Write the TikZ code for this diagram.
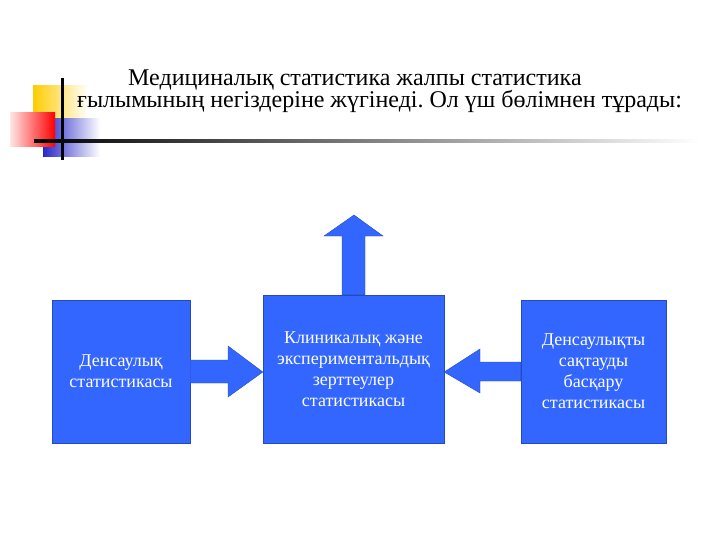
\documentclass[tikz,border=0pt]{standalone}
\usepackage{fontspec}
\setmainfont{Liberation Serif}
\usetikzlibrary{positioning,calc}
\definecolor{boxblue}{RGB}{51,102,255}
\definecolor{edgeblue}{RGB}{35,75,190}
\definecolor{decoyellow}{RGB}{255,204,0}
\definecolor{decoblue}{RGB}{40,40,200}
\frenchspacing
\begin{document}
\begin{tikzpicture}[
    x=1pt, y=-1pt,
    mybox/.style={draw=edgeblue, fill=boxblue, thin, text=white, align=center,
        font=\fontsize{18}{21}\selectfont, inner sep=0pt},
    myarrow/.style={draw=edgeblue, fill=boxblue, thin, line join=miter},
    mytitle/.style={anchor=base west, inner sep=0pt, font=\fontsize{24}{28}\selectfont}
]
    \useasboundingbox (0,0) rectangle (720,540);

    % Decoration
    \shade[left color=decoyellow, middle color=decoyellow, right color=white]
        (33,86) rectangle (88,120);
    \shade[left color=decoblue, right color=white] (43,119) rectangle (100,157);
    \shade[left color=red!10, right color=red] (10,113) rectangle (55,147);
    \draw[line width=3pt] (62,78) -- (62,160);
    \shade[left color=black, middle color=black!60, right color=white]
        (34,139.5) rectangle (700,142.5);

    % Title
    \node[mytitle] (t1) at (128,86) {Медициналық статистика жалпы статистика};
    \node[mytitle] (t2) at (77,108) {ғылымының негіздеріне жүгінеді. Ол үш бөлімнен тұрады:};

    % Boxes
    \node[mybox, minimum width=138, minimum height=143] (health) at (121,371.5)
        {Денсаулық\\статистикасы};
    \node[mybox, minimum width=181, minimum height=148] (clinic) at (353.5,369)
        {Клиникалық және\\экспериментальдық\\зерттеулер\\статистикасы};
    \node[mybox, minimum width=145, minimum height=143] (manage) at (593.5,371.5)
        {Денсаулықты\\сақтауды\\басқару\\статистикасы};

    % Arrows
    \draw[myarrow] (health.east |- 0,360) -- (228,360) -- (228,346)
        -- (clinic.west |- 0,372) -- (228,397) -- (228,383)
        -- (health.east |- 0,383) -- cycle;
    \draw[myarrow] (manage.west |- 0,362) -- (480,362) -- (480,349)
        -- (clinic.east |- 0,372) -- (480,393) -- (480,381)
        -- (manage.west |- 0,381) -- cycle;
    \draw[myarrow] (342,0 |- clinic.north) -- (342,236) -- (324,236)
        -- (354,215) -- (383,236) -- (365,236) -- (365,0 |- clinic.north) -- cycle;
\end{tikzpicture}
\end{document}
